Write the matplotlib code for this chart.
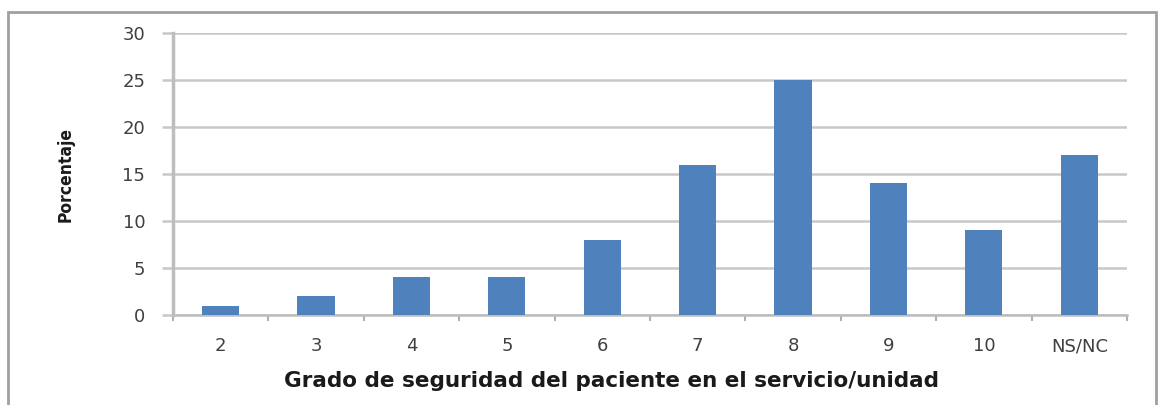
import matplotlib
matplotlib.use('Agg')
import matplotlib.pyplot as plt
from matplotlib.patches import Rectangle
import numpy as np

categorias = ['2', '3', '4', '5', '6', '7', '8', '9', '10', 'NS/NC']
porcentaje = [1, 2, 4, 4, 8, 16, 25, 14, 9, 17]
yticks = [0, 5, 10, 15, 20, 25, 30]

fig = plt.figure(figsize=(11.58, 4.05), dpi=100)
ax = fig.add_axes([0.1494, 0.2222, 0.8238, 0.6963])

x = np.arange(len(categorias))
ax.bar(x, porcentaje, width=0.39, color='#4F81BD', zorder=3)

ax.set_xlim(-0.5, len(categorias) - 0.5)
ax.set_ylim(0, 30)
ax.set_yticks(yticks)
ax.yaxis.grid(True, color='#c8c8c8', linewidth=1.8, zorder=0)

# etiquetas de categoria sin marca, marcas entre categorias
ax.set_xticks(x)
ax.set_xticklabels(categorias)
ax.tick_params(axis='x', length=0, pad=16, labelsize=13, labelcolor='#404040')
ax.set_xticks(np.arange(-0.5, len(categorias)), minor=True)
ax.tick_params(axis='x', which='minor', length=4, width=1.5, color='#b0b0b0', direction='out')
ax.tick_params(axis='y', length=8, width=1.8, color='#c8c8c8', pad=12,
               labelsize=13, labelcolor='#404040')

for s in ['top', 'right']:
    ax.spines[s].set_visible(False)
ax.spines['left'].set_color('#bdbdbd')
ax.spines['left'].set_linewidth(2.5)
ax.spines['bottom'].set_color('#bdbdbd')
ax.spines['bottom'].set_linewidth(1.8)

ax.set_ylabel('Porcentaje', family='DejaVu Sans', fontstretch='condensed',
              fontweight='bold', fontsize=12.5, color='#1a1a1a', labelpad=34)
ax.set_xlabel('Grado de seguridad del paciente en el servicio/unidad',
              family='DejaVu Sans', fontweight='bold',
              fontsize=15.5, color='#1a1a1a', labelpad=12)
ax.xaxis.set_label_coords(0.46, -0.2)
ax.xaxis.label.set_verticalalignment('top')

# marco exterior del grafico
fig.patches.append(Rectangle((8 / 1158, -0.1), 1148 / 1158, 1 - 12 / 405 + 0.1,
                             transform=fig.transFigure, fill=False,
                             edgecolor='#a0a0a0', linewidth=2))

fig.savefig('out.png', dpi=100)
